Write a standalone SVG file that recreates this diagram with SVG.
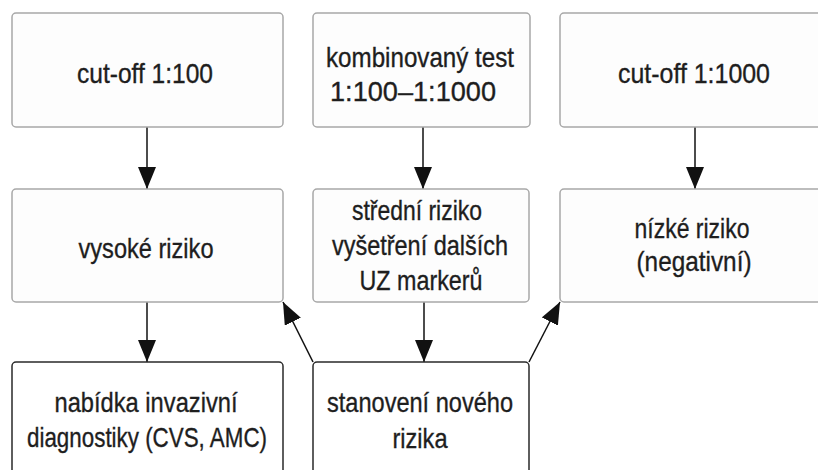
<svg xmlns="http://www.w3.org/2000/svg" width="818" height="470" viewBox="0 0 818 470">
<style>
.top{fill:#fdfdfd;stroke:#a8a8a8;stroke-width:1.5}
.bot{fill:#ffffff;stroke:#2a2a2a;stroke-width:1.5}
.t{font-family:"Liberation Sans",Arial,sans-serif;font-size:28px;fill:#1e1e1e;stroke:#1e1e1e;stroke-width:0.35;text-anchor:middle}
.c{stroke:#111;stroke-width:1.5;fill:none;marker-end:url(#ah)}
</style>
<defs>
<marker id="ah" markerUnits="userSpaceOnUse" markerWidth="22" markerHeight="18" refX="22" refY="9" orient="auto">
<path d="M0,0 L22,9 L0,18 z" fill="#111"/>
</marker>
</defs>
<g id="connectors">
<line class="c" x1="147" y1="127" x2="147" y2="189"/>
<line class="c" x1="423" y1="127" x2="423" y2="189"/>
<line class="c" x1="695" y1="127" x2="695" y2="189"/>
<line class="c" x1="147" y1="302" x2="147" y2="362"/>
<line class="c" x1="424" y1="302" x2="424" y2="362"/>
<line class="c" x1="313" y1="362" x2="283" y2="302"/>
<line class="c" x1="529" y1="362" x2="560" y2="302"/>
</g>
<g id="n1">
<rect class="top" x="12" y="13" width="271" height="114" rx="4"/>
<text class="t" x="145" y="83" textLength="136" lengthAdjust="spacingAndGlyphs">cut-off 1:100</text>
</g>
<g id="n2">
<rect class="top" x="313" y="13" width="217" height="114" rx="4"/>
<text class="t" x="420" y="67" textLength="188" lengthAdjust="spacingAndGlyphs">kombinovaný test</text>
<text class="t" x="413" y="101" textLength="166" lengthAdjust="spacingAndGlyphs">1:100–1:1000</text>
</g>
<g id="n3">
<rect class="top" x="560" y="13" width="270" height="114" rx="4"/>
<text class="t" x="694" y="83" textLength="152" lengthAdjust="spacingAndGlyphs">cut-off 1:1000</text>
</g>
<g id="n4">
<rect class="top" x="12" y="189" width="271" height="113" rx="4"/>
<text class="t" x="146" y="258" textLength="135" lengthAdjust="spacingAndGlyphs">vysoké riziko</text>
</g>
<g id="n5">
<rect class="top" x="313" y="189" width="216" height="113" rx="4"/>
<text class="t" x="417" y="220" textLength="130" lengthAdjust="spacingAndGlyphs">střední riziko</text>
<text class="t" x="420" y="255" textLength="176" lengthAdjust="spacingAndGlyphs">vyšetření dalších</text>
<text class="t" x="421" y="290" textLength="123" lengthAdjust="spacingAndGlyphs">UZ markerů</text>
</g>
<g id="n6">
<rect class="top" x="560" y="189" width="270" height="113" rx="4"/>
<text class="t" x="692" y="238" textLength="115" lengthAdjust="spacingAndGlyphs">nízké riziko</text>
<text class="t" x="694" y="271" textLength="115" lengthAdjust="spacingAndGlyphs">(negativní)</text>
</g>
<g id="n7">
<rect class="bot" x="12" y="362" width="271" height="130" rx="4"/>
<text class="t" x="146" y="412" textLength="183" lengthAdjust="spacingAndGlyphs">nabídka invazivní</text>
<text class="t" x="147" y="447" textLength="240" lengthAdjust="spacingAndGlyphs">diagnostiky (CVS, AMC)</text>
</g>
<g id="n8">
<rect class="bot" x="313" y="362" width="216" height="130" rx="4"/>
<text class="t" x="420" y="412" textLength="186" lengthAdjust="spacingAndGlyphs">stanovení nového</text>
<text class="t" x="420" y="448" textLength="55" lengthAdjust="spacingAndGlyphs">rizika</text>
</g>
</svg>
